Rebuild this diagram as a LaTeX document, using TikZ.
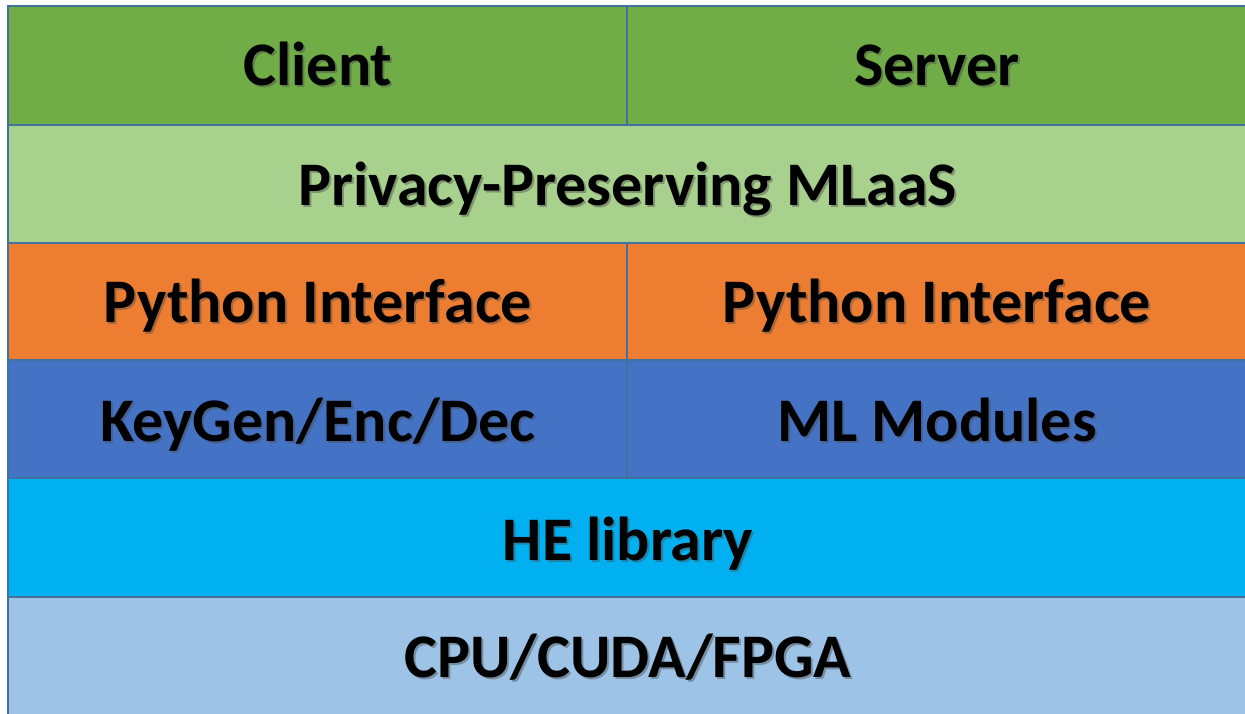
\documentclass[tikz,border=0pt]{standalone}
\usepackage{fontspec}
\setmainfont{Carlito}
\definecolor{gdark}{HTML}{70AD47}
\definecolor{glight}{HTML}{A9D18E}
\definecolor{orng}{HTML}{ED7D31}
\definecolor{blu}{HTML}{4472C4}
\definecolor{cyn}{HTML}{00B0F0}
\definecolor{lblu}{HTML}{9DC3E6}
\definecolor{edge}{HTML}{41719C}
\tikzset{
  cell/.style={draw=edge, line width=1.2pt},
  lbl/.style={font=\fontsize{62}{64}\selectfont\bfseries, text=black, inner sep=0pt, anchor=base},
  shd/.style={font=\fontsize{62}{64}\selectfont\bfseries, text=black!70, opacity=0.45, inner sep=0pt, anchor=base}
}
\newcommand{\cellbox}[5]{%
  \fill[#5] (#1,#2) rectangle (#3,#4);
  \draw[cell] (#1,#2) rectangle (#3,#4);
}
\newcommand{\celltext}[4]{%
  \node[shd] at ([xshift=2pt,yshift=-2pt]#2,#3) {#4};
  \node[lbl] (#1) at (#2,#3) {#4};
}
\begin{document}
\begin{tikzpicture}[x=1pt,y=-1pt]
\useasboundingbox[fill=white] (0,0) rectangle (1245,714);
% row 1
\cellbox{8}{6}{627}{125}{gdark}
\cellbox{627}{6}{1246}{125}{gdark}
% row 2
\cellbox{8}{125}{1246}{243}{glight}
% row 3
\cellbox{8}{243}{627}{360}{orng}
\cellbox{627}{243}{1246}{360}{orng}
% row 4
\cellbox{8}{360}{627}{478}{blu}
\cellbox{627}{360}{1246}{478}{blu}
% row 5
\cellbox{8}{478}{1246}{597}{cyn}
% row 6
\cellbox{8}{597}{1246}{716}{lblu}
% texts
\celltext{client}{318}{86}{Client}
\celltext{server}{937}{86}{Server}
\celltext{ppml}{628}{206}{Privacy-Preserving MLaaS}
\celltext{pyl}{318}{322}{Python Interface}
\celltext{pyr}{937}{322}{Python Interface}
\celltext{keygen}{318}{441}{KeyGen/Enc/Dec}
\celltext{mlmod}{937}{441}{ML Modules}
\celltext{helib}{628}{560}{HE library}
\celltext{hw}{628}{677}{CPU/CUDA/FPGA}
\end{tikzpicture}
\end{document}
